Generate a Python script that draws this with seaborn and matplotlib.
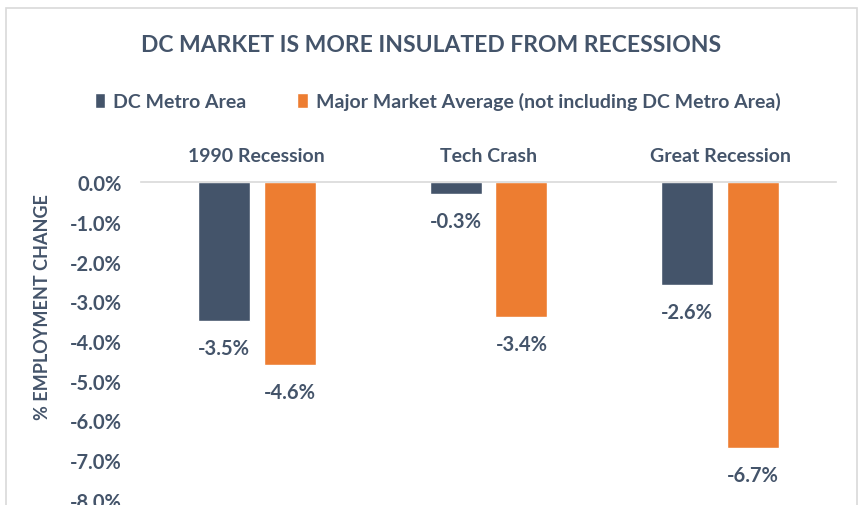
import pandas as pd
import matplotlib.pyplot as plt
import seaborn as sns
from matplotlib.patches import Rectangle, Patch

# data
recessions = ['1990 Recession', 'Tech Crash', 'Great Recession']
dc_metro = [-3.5, -0.3, -2.6]
major_avg = [-4.6, -3.4, -6.7]
series_names = ['DC Metro Area', 'Major Market Average (not including DC Metro Area)']
y_ticks = [0, -1, -2, -3, -4, -5, -6, -7, -8]

df = pd.DataFrame({
    'recession': recessions * 2,
    'series': [series_names[0]] * 3 + [series_names[1]] * 3,
    'value': dc_metro + major_avg,
})

navy = '#44546A'
orange = '#ED7D31'
txt = '#44546A'

sns.set_style('white')
plt.rcParams['font.family'] = ['Lato', 'DejaVu Sans']
plt.rcParams['font.weight'] = 'bold'

fig = plt.figure(figsize=(8.63, 5.06), dpi=100, facecolor='white')
ax = fig.add_axes([0.1634, 0.0099, 0.8053, 0.6284])

sns.barplot(data=df, x='recession', y='value', hue='series', order=recessions,
            hue_order=series_names, palette=[navy, orange], width=0.569, gap=0.21,
            saturation=1, legend=False, ax=ax)

ax.set_ylim(-8, 0)
ax.set_yticks(y_ticks)
ax.set_yticklabels([f'{v:.1f}%' for v in y_ticks], color=txt, fontsize=14.5, fontweight='bold')
ax.tick_params(axis='y', length=0, pad=14)

ax.xaxis.tick_top()
ax.tick_params(axis='x', length=0, pad=13, labelsize=14, labelcolor=txt)
for lab in ax.get_xticklabels():
    lab.set_fontweight('bold')
ax.set_xlabel('')
ax.set_ylabel('% EMPLOYMENT CHANGE', color=txt, fontsize=13, fontweight='bold')
ax.yaxis.set_label_coords(-0.13, 0.61)

for s in ['left', 'right', 'bottom']:
    ax.spines[s].set_visible(False)
ax.spines['top'].set_color('#D9D9D9')
ax.spines['top'].set_linewidth(1.2)

# value labels under each bar
for bars in ax.containers:
    for b in bars:
        v = b.get_height()
        ax.annotate(f'{v:.1f}%', (b.get_x() + b.get_width() / 2, v),
                    xytext=(0, -27), textcoords='offset pixels',
                    ha='center', va='center', color=txt, fontsize=14.5, fontweight='bold')

fig.text(0.5, 1 - 45 / 506, 'DC MARKET IS MORE INSULATED FROM RECESSIONS',
         ha='center', va='center', color=txt, fontsize=16.5, fontweight='bold')

handles = [Patch(facecolor=navy), Patch(facecolor=orange)]
fig.legend(handles, series_names, loc='center', bbox_to_anchor=(0.507, 1 - 102 / 506),
           ncol=2, frameon=False, handlelength=0.55, handleheight=0.8, handletextpad=0.4,
           columnspacing=2.6, prop={'size': 14, 'weight': 'bold'}, labelcolor=txt)

fig.patches.append(Rectangle((6 / 863, -0.05), 851 / 863, 1.05 - 9 / 506,
                             transform=fig.transFigure, fill=False,
                             edgecolor='#D9D9D9', linewidth=1.2))

plt.savefig('out.png', dpi=100, facecolor='white')
